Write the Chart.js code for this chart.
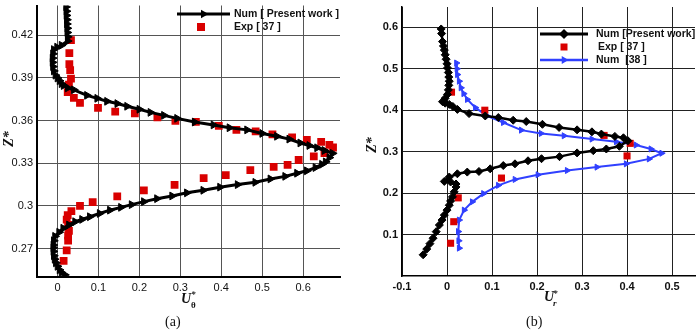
<!DOCTYPE html>
<html>
<head>
<meta charset="utf-8">
<script src="https://cdn.jsdelivr.net/npm/chart.js@4/dist/chart.umd.min.js"></script>
<style>
  body { margin: 0; background: #fff; }
  #wrap { position: relative; width: 700px; height: 330px; overflow: hidden; background: #fff; }
  canvas { position: absolute; top: 0; }
  .t { position: absolute; font-family: "Liberation Serif", "DejaVu Serif", serif; color: #111; white-space: nowrap; line-height: 1; }
  .ax { font-style: italic; font-weight: bold; font-size: 14px; }
  .sm { font-size: 9px; font-style: italic; font-weight: bold; }
  .cap { font-size: 14px; }
</style>
</head>
<body>
<div id="wrap">
  <canvas id="chartA" width="350" height="330" style="left:0"></canvas>
  <canvas id="chartB" width="350" height="330" style="left:350px"></canvas>

  <div class="t ax" style="left:1px;top:132px;transform:rotate(-90deg);">Z*</div>
  <div class="t ax" style="left:181px;top:292px;">U</div>
  <div class="t sm" style="left:191px;top:290px;">*</div>
  <div class="t sm" style="left:191px;top:301px;font-style:normal;">θ</div>
  <div class="t cap" style="left:165px;top:315px;">(a)</div>

  <div class="t ax" style="left:364px;top:138px;transform:rotate(-90deg);">Z*</div>
  <div class="t ax" style="left:544px;top:290px;">U</div>
  <div class="t sm" style="left:553px;top:289px;">*</div>
  <div class="t sm" style="left:553px;top:299px;">r</div>
  <div class="t cap" style="left:526px;top:315px;">(b)</div>
</div>

<script>
// (a) tangential velocity
const numA_u = [0.021, 0.022, 0.022, 0.023, 0.023, 0.024, 0.024, 0.025, 0.025,
  0.010, -0.001, -0.009, -0.011, -0.012, -0.012, -0.011, -0.009, -0.005, 0.000, 0.005, 0.010,
  0.015, 0.025, 0.040, 0.072, 0.097, 0.121, 0.146, 0.170, 0.200, 0.227, 0.260, 0.292, 0.335,
  0.381, 0.420, 0.463, 0.500, 0.536, 0.566, 0.593, 0.615, 0.634, 0.652, 0.672,
  0.664, 0.655, 0.646, 0.630, 0.609, 0.585, 0.556, 0.520, 0.483, 0.440, 0.397, 0.356, 0.316,
  0.280, 0.243, 0.211, 0.181, 0.155, 0.128, 0.103, 0.079, 0.060, 0.043, 0.028, 0.014, 0.004,
  -0.006, -0.009, -0.010, -0.010, -0.010, -0.009, -0.007, -0.004, 0.000, 0.005, 0.010, 0.018];
const numA_z = [0.440, 0.437, 0.434, 0.431, 0.428, 0.425, 0.422, 0.419, 0.416,
  0.413, 0.4117, 0.410, 0.407, 0.404, 0.401, 0.398, 0.395, 0.392, 0.390, 0.388, 0.386,
  0.3847, 0.383, 0.3817, 0.3778, 0.3757, 0.3736, 0.372, 0.3701, 0.368, 0.3658, 0.3637, 0.3616, 0.359,
  0.357, 0.355, 0.3535, 0.351, 0.349, 0.347, 0.3443, 0.3425, 0.3409, 0.339, 0.337,
  0.334, 0.331, 0.3293, 0.327, 0.3247, 0.323, 0.3208, 0.319, 0.3166, 0.315, 0.3132, 0.311, 0.3092,
  0.307, 0.3051, 0.303, 0.3009, 0.299, 0.297, 0.2947, 0.2924, 0.2905, 0.2889, 0.2866, 0.2843, 0.2815,
  0.2786, 0.2755, 0.2725, 0.2705, 0.268, 0.265, 0.2625, 0.260, 0.2575, 0.255, 0.2531, 0.2515];
const expA_u = [0.033, 0.029, 0.029, 0.031, 0.033, 0.028, 0.025, 0.040, 0.055, 0.099, 0.141, 0.189,
  0.244, 0.288, 0.338, 0.394, 0.437, 0.484, 0.525, 0.573, 0.609, 0.644, 0.664, 0.673,
  0.652, 0.626, 0.589, 0.562, 0.528, 0.471, 0.411, 0.357, 0.286, 0.211, 0.146, 0.086, 0.055,
  0.034, 0.025, 0.0225, 0.026, 0.028, 0.026, 0.026, 0.0225, 0.015];
const expA_z = [0.4166, 0.4075, 0.3997, 0.3956, 0.3895, 0.3854, 0.380, 0.376, 0.3725, 0.369, 0.3663, 0.3651,
  0.3623, 0.3598, 0.3591, 0.3563, 0.3535, 0.3524, 0.3503, 0.3483, 0.3464, 0.345, 0.343, 0.3411,
  0.3372, 0.3348, 0.3323, 0.3289, 0.3275, 0.3252, 0.3217, 0.3196, 0.3148, 0.3109, 0.3067, 0.3026, 0.300,
  0.2963, 0.2936, 0.2903, 0.2867, 0.2825, 0.2792, 0.2756, 0.2687, 0.2614];
const ticksA_x = [0, 0.1, 0.2, 0.3, 0.4, 0.5, 0.6];
const ticksA_y = [0.27, 0.3, 0.33, 0.36, 0.39, 0.42];

// (b) radial velocity
const numB_u = [-0.013, -0.012, -0.010, -0.008, -0.006, -0.004, -0.002, 0.000, 0.001, 0.003, 0.004, 0.005,
  0.004, 0.003, 0.001, -0.004, -0.010, -0.004, 0.005, 0.013, 0.023, 0.049, 0.085, 0.114, 0.147, 0.176,
  0.212, 0.249, 0.289, 0.322, 0.343, 0.373, 0.392, 0.402, 0.383, 0.354, 0.325, 0.289, 0.250, 0.210,
  0.180, 0.151, 0.125, 0.096, 0.071, 0.045, 0.023, 0.005, -0.006, 0.008, 0.020, 0.020, 0.016, 0.012,
  0.008, 0.005, 0.000, -0.006, -0.011, -0.017, -0.024, -0.031, -0.038, -0.045, -0.053];
const numB_z = [0.596, 0.585, 0.5656, 0.555, 0.545, 0.5337, 0.523, 0.512, 0.502, 0.491, 0.480, 0.470,
  0.460, 0.449, 0.438, 0.429, 0.4206, 0.417, 0.414, 0.409, 0.402, 0.3918, 0.3861, 0.3823, 0.3758, 0.3727,
  0.366, 0.3584, 0.3526, 0.3478, 0.3424, 0.3368, 0.3335, 0.3263, 0.3129, 0.3064, 0.3024, 0.297, 0.288, 0.283,
  0.278, 0.2706, 0.2665, 0.2586, 0.2522, 0.2507, 0.2466, 0.2388, 0.2282, 0.2268, 0.222, 0.2148, 0.203, 0.1909,
  0.181, 0.1708, 0.159, 0.1469, 0.135, 0.123, 0.107, 0.0912, 0.078, 0.065, 0.0512];
const expB_u = [0.010, 0.084, 0.349, 0.407, 0.400, 0.121, 0.025, 0.015, 0.008];
const expB_z = [0.4435, 0.400, 0.3392, 0.320, 0.2897, 0.2363, 0.1885, 0.131, 0.079];
const ref38_u = [0.021, 0.022, 0.023, 0.027, 0.031, 0.037, 0.045, 0.063, 0.089, 0.125, 0.165, 0.209, 0.260,
  0.322, 0.376, 0.420, 0.453, 0.477, 0.449, 0.398, 0.333, 0.267, 0.202, 0.151, 0.114, 0.081, 0.056,
  0.038, 0.027, 0.025, 0.026, 0.027];
const ref38_z = [0.5139, 0.500, 0.4859, 0.470, 0.454, 0.440, 0.426, 0.4062, 0.3861, 0.3703, 0.3519, 0.344, 0.3383,
  0.3304, 0.324, 0.316, 0.3065, 0.2962, 0.2825, 0.2706, 0.2627, 0.2546, 0.2443, 0.233, 0.2187, 0.1988, 0.1789,
  0.1589, 0.135, 0.1072, 0.085, 0.0672];
const ticksB_x = [-0.1, 0, 0.1, 0.2, 0.3, 0.4, 0.5];
const ticksB_y = [0.1, 0.2, 0.3, 0.4, 0.5, 0.6];

const RED = "#d90000";
const BLUE = "#3040ff";

function pts(us, zs) {
  return us.map((u, i) => ({ x: u, y: zs[i] }));
}

function fixedTicks(values) {
  return function (scale) {
    scale.ticks = values.map((v) => ({ value: v }));
  };
}

function marker(ctx, style, x, y, r, color) {
  ctx.save();
  ctx.fillStyle = color;
  ctx.beginPath();
  if (style === "triR") {
    ctx.moveTo(x + r, y);
    ctx.lineTo(x - r * 0.5, y - r * 0.87);
    ctx.lineTo(x - r * 0.5, y + r * 0.87);
  } else if (style === "diamond") {
    ctx.moveTo(x, y - r);
    ctx.lineTo(x + r, y);
    ctx.lineTo(x, y + r);
    ctx.lineTo(x - r, y);
  } else {
    ctx.rect(x - r, y - r, 2 * r, 2 * r);
  }
  ctx.closePath();
  ctx.fill();
  ctx.restore();
}

// legend drawn inside the plot, like the original figure
function legendPlugin(items, font) {
  return {
    id: "insideLegend",
    afterDraw(chart) {
      const ctx = chart.ctx;
      ctx.save();
      ctx.font = font;
      ctx.textBaseline = "middle";
      ctx.fillStyle = "#111";
      items.forEach((it) => {
        if (it.line) {
          ctx.strokeStyle = it.color;
          ctx.lineWidth = it.lw;
          ctx.beginPath();
          ctx.moveTo(it.x0, it.y);
          ctx.lineTo(it.x1, it.y);
          ctx.stroke();
        }
        marker(ctx, it.style, (it.x0 + it.x1) / 2, it.y, it.r, it.color);
        ctx.fillStyle = "#111";
        ctx.fillText(it.text, it.tx, it.y);
      });
      ctx.restore();
    },
  };
}

function axes(o) {
  return {
    x: {
      type: "linear",
      min: o.xmin,
      max: o.xmax,
      afterBuildTicks: fixedTicks(o.tx),
      afterFit(s) { s.height = o.xh; s.paddingLeft = 0; s.paddingRight = 0; },
      grid: { color: o.grid, lineWidth: 1, drawTicks: false },
      border: { color: "#000", width: o.bw },
      ticks: { padding: 4, color: "#111", font: o.font, maxRotation: 0, autoSkip: false,
        callback: (v) => String(v) },
    },
    y: {
      type: "linear",
      min: o.ymin,
      max: o.ymax,
      afterBuildTicks: fixedTicks(o.ty),
      afterFit(s) { s.width = o.yw; s.paddingTop = 0; s.paddingBottom = 0; },
      grid: { color: o.grid, lineWidth: 1, drawTicks: false },
      border: { color: "#000", width: o.bw },
      ticks: { padding: 4, color: "#111", font: o.font, autoSkip: false,
        callback: (v) => String(v) },
    },
  };
}

new Chart(document.getElementById("chartA"), {
  type: "scatter",
  data: {
    datasets: [
      {
        label: "Num [ Present work ]",
        data: pts(numA_u, numA_z),
        showLine: true,
        borderColor: "#000",
        backgroundColor: "#000",
        borderWidth: 3,
        pointStyle: "triangle",
        rotation: 90,
        pointRadius: 4.5,
        pointBorderWidth: 1,
        tension: 0,
      },
      {
        label: "Exp [ 37 ]",
        data: pts(expA_u, expA_z),
        borderColor: RED,
        backgroundColor: RED,
        pointStyle: "rect",
        pointRadius: 5.5,
        pointBorderWidth: 0,
      },
    ],
  },
  options: {
    responsive: false,
    animation: false,
    layout: { padding: { left: 0, right: 10, top: 0, bottom: 0 } },
    plugins: { legend: { display: false }, tooltip: { enabled: false } },
    scales: axes({
      xmin: -0.05, xmax: 0.69, ymin: 0.25, ymax: 0.441,
      tx: ticksA_x, ty: ticksA_y, xh: 53, yw: 37, bw: 2, grid: "#555",
      font: { family: "Liberation Sans", size: 11 },
    }),
  },
  plugins: [legendPlugin([
    { line: true, x0: 177, x1: 230, y: 14, lw: 3, color: "#000", style: "triR", r: 5, text: "Num [ Present work ]", tx: 234 },
    { line: false, x0: 197, x1: 205, y: 27, color: RED, style: "rect", r: 4, text: "Exp [ 37 ]", tx: 234 },
  ], "bold 10.5px 'Liberation Sans'")],
});

new Chart(document.getElementById("chartB"), {
  type: "scatter",
  data: {
    datasets: [
      {
        label: "Num [Present work]",
        data: pts(numB_u, numB_z),
        showLine: true,
        borderColor: "#000",
        backgroundColor: "#000",
        borderWidth: 2.5,
        pointStyle: "rectRot",
        pointRadius: 4,
        pointBorderWidth: 1,
        tension: 0,
      },
      {
        label: "Exp [ 37 ]",
        data: pts(expB_u, expB_z),
        borderColor: RED,
        backgroundColor: RED,
        pointStyle: "rect",
        pointRadius: 5,
        pointBorderWidth: 0,
      },
      {
        label: "Num  [38 ]",
        data: pts(ref38_u, ref38_z),
        showLine: true,
        borderColor: BLUE,
        backgroundColor: BLUE,
        borderWidth: 2,
        pointStyle: "triangle",
        rotation: 90,
        pointRadius: 3.5,
        pointBorderWidth: 1,
        tension: 0,
      },
    ],
  },
  options: {
    responsive: false,
    animation: false,
    layout: { padding: { left: 0, right: 0, top: 7, bottom: 0 } },
    plugins: { legend: { display: false }, tooltip: { enabled: false } },
    scales: axes({
      xmin: -0.1, xmax: 0.551, ymin: 0, ymax: 0.649,
      tx: ticksB_x, ty: ticksB_y, xh: 54, yw: 52, bw: 1.5, grid: "#222",
      font: { family: "Liberation Sans", size: 11, weight: "bold" },
    }),
  },
  plugins: [legendPlugin([
    { line: true, x0: 190, x1: 238, y: 34, lw: 3, color: "#000", style: "diamond", r: 5, text: "Num [Present work]", tx: 246 },
    { line: false, x0: 210, x1: 218, y: 47, color: RED, style: "rect", r: 3.5, text: "Exp [ 37 ]", tx: 248 },
    { line: true, x0: 190, x1: 238, y: 60, lw: 2.5, color: BLUE, style: "triR", r: 4.5, text: "Num  [38 ]", tx: 246 },
  ], "bold 10.5px 'Liberation Sans'")],
});
</script>
</body>
</html>
